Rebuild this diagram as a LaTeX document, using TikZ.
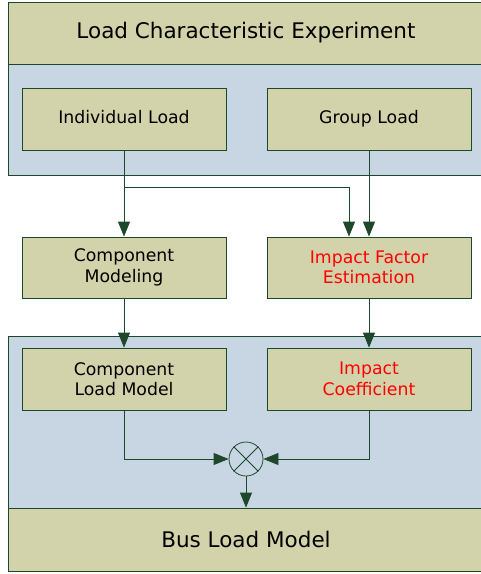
\documentclass[tikz,border=0pt]{standalone}
\usepackage{fontspec}
\setmainfont{DejaVu Sans}
\usetikzlibrary{arrows.meta}

\definecolor{khaki}{RGB}{211,211,171}
\definecolor{paleblue}{RGB}{200,214,228}
\definecolor{edgegreen}{RGB}{30,72,44}

\tikzset{
	box/.style={minimum width=204pt, minimum height=62pt, draw=edgegreen, fill=khaki, align=center, font=\fontsize{17.3}{20.5}\selectfont, line width=0.8pt},
	oneline/.style={text height=12.5pt, text depth=3.5pt},
	band/.style={minimum width=476pt, draw=edgegreen, fill=khaki, font=\fontsize{21.5}{25}\selectfont, line width=0.8pt},
	arr/.style={-{Triangle[length=15pt,width=12pt]}, draw=edgegreen, line width=0.8pt},
}

\begin{document}
\begin{tikzpicture}[x=1pt,y=-1pt]
		\useasboundingbox (0,0) rectangle (481,574);
		\clip (0,0) rectangle (481,574);

		% panels
		\draw[draw=edgegreen, fill=paleblue, line width=0.8pt] (8,64) rectangle (484,175);
		\draw[draw=edgegreen, fill=paleblue, line width=0.8pt] (8,336) rectangle (484,508);
		\draw (246,33) node[band, minimum height=62pt] (lce) {Load Characteristic Experiment};
		\draw (246,539.5) node[band, minimum height=63pt] (blm) {Bus Load Model};

		% boxes
		\draw (124,119) node[box, oneline] (indiv) {Individual Load};
		\draw (369,119) node[box, oneline] (group) {Group Load};

		\draw (124,267.5) node[box, minimum height=61pt] (compmod) {Component\\Modeling};
		\draw (369,267.5) node[box, minimum height=61pt, text=red] (impfac) {Impact Factor\\Estimation};

		\draw (124,379) node[box] (compload) {Component\\Load Model};
		\draw (369,379) node[box, text=red] (impcoef) {Impact\\Coefficient};

		\draw (246,459) node[circle, draw=edgegreen, line width=0.8pt, minimum size=34pt, inner sep=0pt] (mult) {};
		\draw[edgegreen, line width=0.8pt] (mult.north west) -- (mult.south east);
		\draw[edgegreen, line width=0.8pt] (mult.north east) -- (mult.south west);

		\coordinate (split) at (124,187);
		\coordinate (turn) at (349,187);

		\draw [arr] (indiv.south) -- (compmod.north);
		\draw [arr] (split) -- (turn) -- (turn |- impfac.north);
		\draw [arr] (group.south) -- (impfac.north);
		\draw [arr] (compmod.south) -- (compload.north);
		\draw [arr] (impfac.south) -- (impcoef.north);
		\draw [arr] (compload.south) |- (mult.west);
		\draw [arr] (impcoef.south) |- (mult.east);
		\draw [arr] (mult.south) -- (mult.south |- blm.north);
	\end{tikzpicture}
\end{document}
